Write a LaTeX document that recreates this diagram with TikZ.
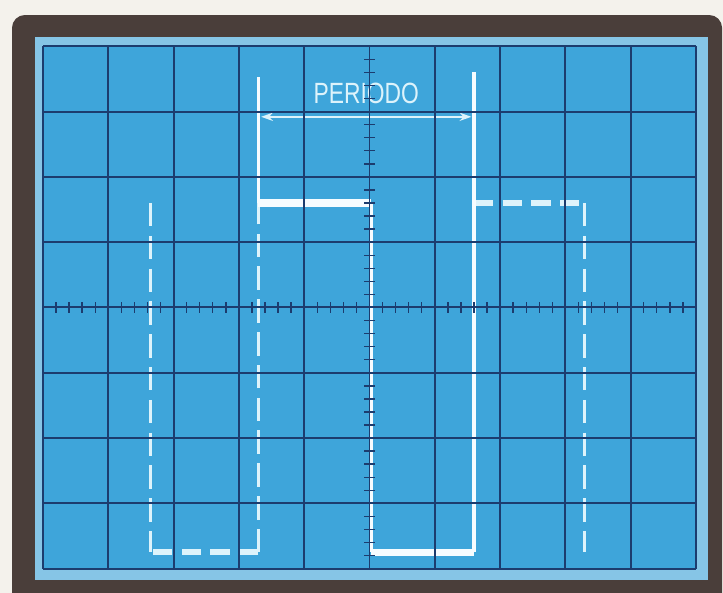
\documentclass[tikz,border=0pt]{standalone}
\usepackage{fontspec}
\setmainfont{Liberation Sans}
\usepackage{graphicx}
\usetikzlibrary{arrows.meta}

\definecolor{scrblue}{HTML}{3EA5DA}
\definecolor{bevel}{HTML}{86C5E6}
\definecolor{gridnavy}{HTML}{1C3C6E}
\definecolor{bezel}{HTML}{4A3E3A}
\definecolor{paper}{HTML}{F4F2EC}
\definecolor{trace}{HTML}{F6FCFF}
\definecolor{ghost}{HTML}{DDF3FB}

\begin{document}
\begin{tikzpicture}[
    x=1.959cm, y=1.959cm,
    >={Stealth[length=10pt,width=7pt]},
    gridline/.style={draw=gridnavy, line width=1.7pt},
    tick/.style={draw=gridnavy, line width=1.2pt},
    solidtrace/.style={draw=trace, line width=3.2pt},
    thicktrace/.style={draw=trace, line width=6pt},
    ghosth/.style={draw=ghost, line width=5pt, dash pattern=on 16.5pt off 8pt},
    ghostv/.style={draw=ghost, line width=2.6pt, dash pattern=on 20pt off 8pt},
    marker/.style={draw=ghost, line width=1.8pt},
    lbl/.style={font=\fontsize{25}{25}\selectfont, text=ghost, inner sep=0pt}
  ]
  \useasboundingbox[fill=paper] (-5.659,-4.372) rectangle (5.414,4.709);
  \clip (-5.659,-4.372) rectangle (5.414,4.709);
  % bezel and screen
  \fill[bezel, rounded corners=11pt] (-5.475,-4.8) rectangle (5.40,4.479);
  \fill[bevel] (-5.12,-4.17) rectangle (5.18,4.14);
  \fill[scrblue] (-5,-4) rectangle (5,4);

  % neighbouring periods (dashed)
  \draw[ghostv] (-3.35,1.6) -- (-3.35,-3.75);
  \draw[ghosth] (-1.7,-3.75) -- (-3.35,-3.75);
  \draw[ghostv] (-1.7,-3.75) -- (-1.7,1.6);
  \draw[ghosth] (1.6,1.6) -- (3.3,1.6);
  \draw[ghostv] (3.3,1.6) -- (3.3,-3.75);

  % one period
  \draw[thicktrace] (-1.7,1.6) -- (0.02,1.6);
  \draw[solidtrace] (0.02,1.6) -- (0.02,-3.75);
  \draw[thicktrace] (0.02,-3.75) -- (1.6,-3.75);
  \draw[solidtrace] (1.6,-3.75) -- (1.6,3.6);
  \draw[solidtrace] (-1.7,1.6) -- (-1.7,3.53);

  % period mark
  \coordinate (pL) at (-1.66,2.92);
  \coordinate (pR) at (1.56,2.92);
  \draw[marker, <->] (pL) -- (pR);
  \node[lbl] (period) at (-0.05,3.28) {\scalebox{0.78}[1]{PERIODO}};

  % graticule
  \foreach \x in {-5,...,5}
    \draw[gridline] (\x,-4) -- (\x,4);
  \foreach \y in {-4,...,4}
    \draw[gridline] (-5,\y) -- (5,\y);
  \foreach \i in {-24,...,24}
    \draw[tick] (\i/5,-0.08) -- (\i/5,0.08);
  \foreach \i in {-19,...,19}
    \draw[tick] (-0.08,\i/5) -- (0.08,\i/5);
\end{tikzpicture}
\end{document}
